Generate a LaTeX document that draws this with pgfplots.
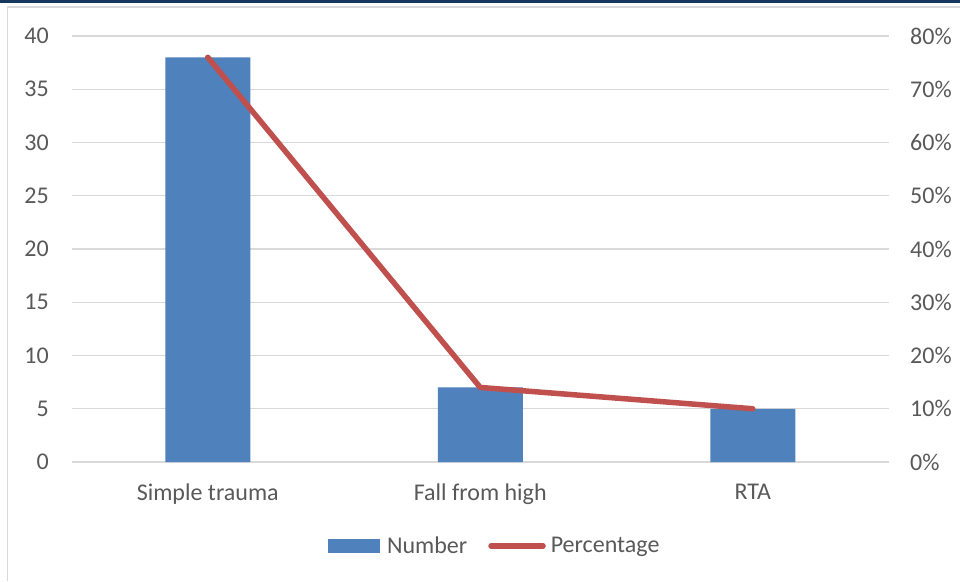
\documentclass[border=0pt]{standalone}
\usepackage{pgfplots}
\pgfplotsset{compat=1.18}
\usepackage{fontspec}
\setmainfont{Carlito}
\definecolor{barblue}{HTML}{4F81BD}
\definecolor{linered}{HTML}{C0504D}
\definecolor{gridgray}{HTML}{D9D9D9}
\definecolor{txtgray}{HTML}{595959}
\definecolor{bandnavy}{HTML}{17375E}
\newcommand{\lblfont}{\fontsize{24}{28}\selectfont}
\begin{document}
\begin{tikzpicture}
\path[use as bounding box] (0pt,0pt) rectangle (960pt,581pt);
% frame
\fill[bandnavy] (0pt,578.2pt) rectangle (960pt,581pt);
\draw[gridgray, line width=1.3pt] (7.5pt,0pt) -- (7.5pt,574pt) -- (960pt,574pt);

% counts (left axis)
\begin{axis}[
  at={(71.5pt,119pt)}, anchor=south west, scale only axis,
  width=817.5pt, height=426pt,
  xmin=-0.5, xmax=2.5, ymin=0, ymax=40,
  xtick={0,1,2}, xticklabels={Simple trauma, Fall from high, RTA},
  ytick={0,5,...,40},
  ymajorgrids, grid style={gridgray, line width=1.3pt},
  axis line style={draw=none}, major tick length=0pt,
  tick label style={font=\lblfont, text=txtgray, inner sep=0pt},
  /pgf/number format/assume math mode=true,
  yticklabel style={anchor=east, xshift=-22.5pt},
  xticklabel style={anchor=north, yshift=-22pt},
  ybar, bar width=85pt,
]
\addplot[fill=barblue, draw=none] coordinates {(0,38) (1,7) (2,5)};
\end{axis}

% percentages (right axis)
\begin{axis}[
  at={(71.5pt,119pt)}, anchor=south west, scale only axis,
  width=817.5pt, height=426pt,
  xmin=-0.5, xmax=2.5, ymin=0, ymax=80,
  hide x axis, axis y line*=right,
  ytick={0,10,...,80},
  yticklabel={\pgfmathprintnumber{\tick}\%},
  axis line style={draw=none}, major tick length=0pt,
  tick label style={font=\lblfont, text=txtgray, inner sep=0pt},
  /pgf/number format/assume math mode=true,
  yticklabel style={anchor=west, xshift=21pt},
  legend columns=2,
  legend style={draw=none, fill=none, font=\lblfont, text=txtgray,
    at={(0.5175,-0.197)}, anchor=center,
    /tikz/every even column/.append style={column sep=19pt}},
]
\addlegendimage{legend image code/.code={%
  \fill[barblue] (0pt,-6pt) rectangle (51pt,6.5pt);
  \path (57pt,0pt);}}
\addlegendentry{Number}
\addplot[linered, line width=5.5pt, line cap=round, line join=round,
  legend image code/.code={%
    \draw[linered, line width=5.5pt, line cap=round] (2pt,0pt) -- (54pt,0pt);
    \path (57pt,0pt);}]
  coordinates {(0,76) (1,14) (2,10)};
\addlegendentry{Percentage}
\end{axis}
\end{tikzpicture}
\end{document}
